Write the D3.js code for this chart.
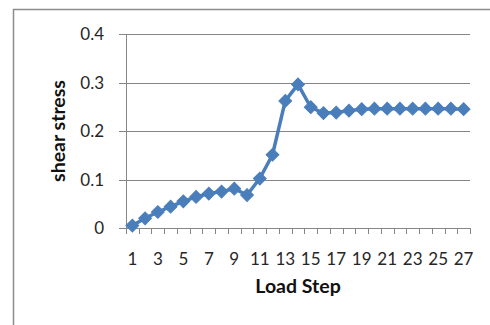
<!DOCTYPE html>
<html>
<head>
<meta charset="utf-8">
<script src="https://cdn.jsdelivr.net/npm/d3@7"></script>
<style>
  html, body { margin: 0; padding: 0; background: #fff; }
  svg { display: block; }
</style>
</head>
<body>
<script>
const categories = d3.range(1, 28).map(String);
const shearStress = [0.005, 0.02, 0.033, 0.044, 0.055, 0.064, 0.071, 0.075, 0.081, 0.068, 0.102, 0.151, 0.262, 0.296, 0.249, 0.237, 0.238, 0.242, 0.245, 0.246, 0.246, 0.246, 0.246, 0.246, 0.246, 0.246, 0.245];
const yTicks = [0, 0.1, 0.2, 0.3, 0.4];
const xLabels = categories.filter((d, i) => i % 2 === 0);

const W = 490, H = 325;
const mLeft = 126, mRight = 470, mTop = 34, mBottom = 228;
const svg = d3.select("body").append("svg").attr("width", W).attr("height", H);
const font = "Lato, 'Open Sans', sans-serif";
const axisColor = "#868686";
const blue = "#4A7EBB";

// outer chart frame (cut off at right/bottom)
svg.append("path")
  .attr("d", `M13.5,${H + 2} V9.5 H${W + 2}`)
  .attr("fill", "none").attr("stroke", "#8c8c8c").attr("stroke-width", 1.5);

const x = d3.scaleBand().domain(categories).range([mLeft, mRight]).padding(0);
const y = d3.scaleLinear().domain([0, 0.4]).range([mBottom, mTop]);

// gridlines + y ticks
svg.append("g").selectAll("line").data(yTicks.filter(d => d > 0)).join("line")
  .attr("x1", mLeft - 7).attr("x2", mRight)
  .attr("y1", d => Math.round(y(d)) + 0.5).attr("y2", d => Math.round(y(d)) + 0.5)
  .attr("stroke", axisColor).attr("stroke-width", 1);

// zero tick
svg.append("line").attr("x1", mLeft - 7).attr("x2", mLeft)
  .attr("y1", Math.round(y(0)) + 0.5).attr("y2", Math.round(y(0)) + 0.5)
  .attr("stroke", axisColor);

// y axis line
svg.append("line").attr("x1", mLeft + 0.5).attr("x2", mLeft + 0.5)
  .attr("y1", y(0.4)).attr("y2", y(0))
  .attr("stroke", axisColor);

// x axis line
svg.append("line").attr("x1", mLeft).attr("x2", mRight)
  .attr("y1", Math.round(y(0)) + 0.5).attr("y2", Math.round(y(0)) + 0.5)
  .attr("stroke", axisColor);

// x tick marks at category boundaries
const bounds = categories.map(c => x(c)).concat([x.range()[1]]);
svg.append("g").selectAll("line").data(bounds).join("line")
  .attr("x1", d => Math.round(d) + 0.5).attr("x2", d => Math.round(d) + 0.5)
  .attr("y1", y(0)).attr("y2", y(0) + 6)
  .attr("stroke", axisColor);

// y labels
svg.append("g").selectAll("text").data(yTicks).join("text")
  .attr("x", 104).attr("y", d => y(d))
  .attr("dy", "0.36em")
  .attr("text-anchor", "end")
  .attr("font-family", font).attr("font-size", 17).attr("fill", "#262626")
  .text(d => d === 0 ? "0" : d3.format(".1f")(d));

// x labels
svg.append("g").selectAll("text").data(xLabels).join("text")
  .attr("x", d => x(d) + x.bandwidth() / 2).attr("y", 265)
  .attr("text-anchor", "middle")
  .attr("font-family", font).attr("font-size", 17).attr("fill", "#262626")
  .text(d => d);

// axis titles
svg.append("text")
  .attr("x", (mLeft + mRight) / 2).attr("y", 293)
  .attr("text-anchor", "middle")
  .attr("font-family", font).attr("font-size", 19.5).attr("font-weight", "bold").attr("fill", "#111")
  .text("Load Step");

svg.append("text")
  .attr("transform", `translate(65,131) rotate(-90)`)
  .attr("text-anchor", "middle")
  .attr("font-family", font).attr("font-size", 19.5).attr("font-weight", "bold").attr("fill", "#111")
  .text("shear stress");

// series line
const pts = categories.map((c, i) => [x(c) + x.bandwidth() / 2, y(shearStress[i])]);
svg.append("path")
  .attr("d", d3.line()(pts))
  .attr("fill", "none").attr("stroke", blue).attr("stroke-width", 3.5)
  .attr("stroke-linejoin", "round");

// diamond markers
svg.append("g").selectAll("path").data(pts).join("path")
  .attr("transform", d => `translate(${d[0]},${d[1]}) rotate(45)`)
  .attr("d", d3.symbol().type(d3.symbolSquare).size(82))
  .attr("fill", blue).attr("stroke", blue).attr("stroke-width", 1);
</script>
</body>
</html>
